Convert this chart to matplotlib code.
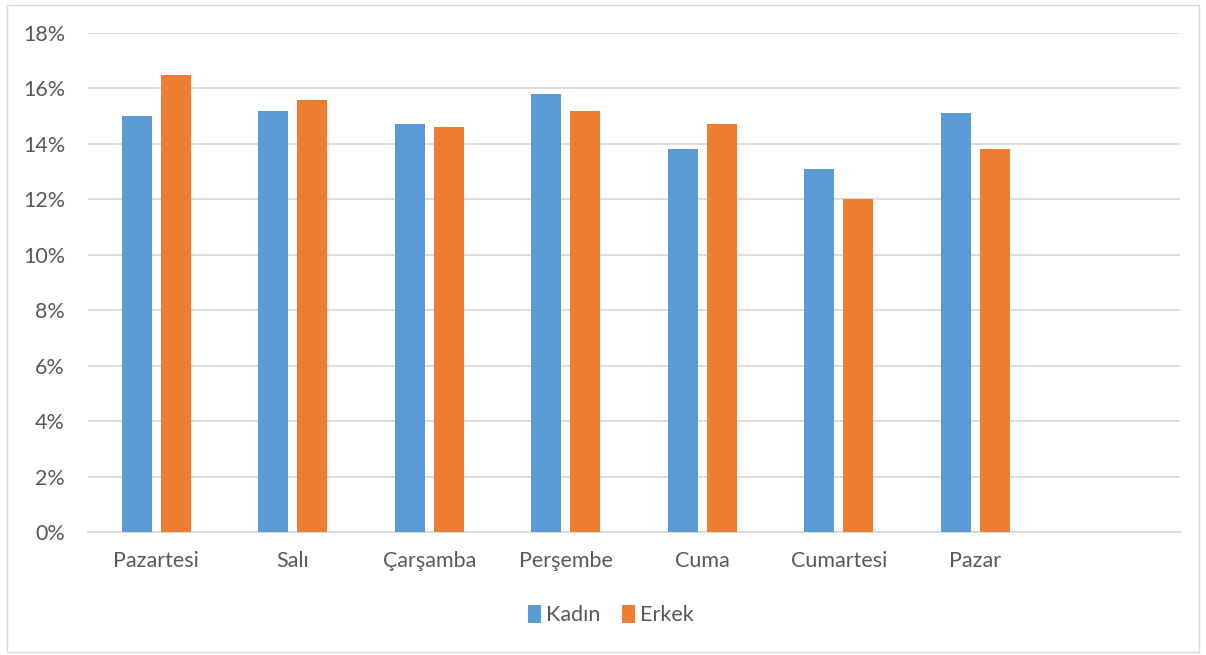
import matplotlib
matplotlib.use("Agg")
import matplotlib.pyplot as plt
from matplotlib.patches import Rectangle
import numpy as np

plt.rcParams['font.family'] = ['Lato', 'DejaVu Sans']

days = ["Pazartesi", "Salı", "Çarşamba", "Perşembe", "Cuma", "Cumartesi", "Pazar", ""]
kadin = [15.0, 15.2, 14.7, 15.8, 13.8, 13.1, 15.1]
erkek = [16.5, 15.6, 14.6, 15.2, 14.7, 12.0, 13.8]
yticks = [0, 2, 4, 6, 8, 10, 12, 14, 16, 18]

blue = "#5B9BD5"
orange = "#ED7D31"
text_c = "#595959"
grid_c = "#D9D9D9"

fig = plt.figure(figsize=(12.06, 6.55), dpi=100)
fig.patches.append(Rectangle((0.006, 0.005), 0.988, 0.987, transform=fig.transFigure,
                             fill=False, edgecolor=grid_c, linewidth=1.0))
ax = fig.add_axes([88 / 1206, 1 - 532 / 655, (1180 - 88) / 1206, (532 - 33) / 655])

n = len(days)
x = np.arange(n)
w = 0.22
gap = 0.066
xk = x[:len(kadin)] - (w + gap) / 2
xe = x[:len(erkek)] + (w + gap) / 2
ax.bar(xk, kadin, width=w, color=blue, label="Kadın", zorder=3)
ax.bar(xe, erkek, width=w, color=orange, label="Erkek", zorder=3)

ax.set_xlim(-0.5, n - 0.5)
ax.set_ylim(0, 18)
ax.set_yticks(yticks)
ax.set_yticklabels([f"{v}%" for v in yticks])
ax.set_xticks(x)
ax.set_xticklabels(days)
ax.yaxis.grid(True, color=grid_c, linewidth=1.3, zorder=0)
for s in ["top", "right", "left"]:
    ax.spines[s].set_visible(False)
ax.spines["bottom"].set_color(grid_c)
ax.spines["bottom"].set_linewidth(1.3)
ax.tick_params(axis="both", length=0, labelsize=15.5, labelcolor=text_c)
ax.tick_params(axis="x", pad=14)
ax.tick_params(axis="y", pad=16.5)

leg = fig.legend(loc="center", bbox_to_anchor=(611 / 1206, 1 - 615 / 655), ncol=2,
                 frameon=False, fontsize=15.5, handlelength=0.6, handleheight=0.9,
                 handletextpad=0.25, columnspacing=1.0)
for t in leg.get_texts():
    t.set_color(text_c)

fig.savefig("out.png", dpi=100)
